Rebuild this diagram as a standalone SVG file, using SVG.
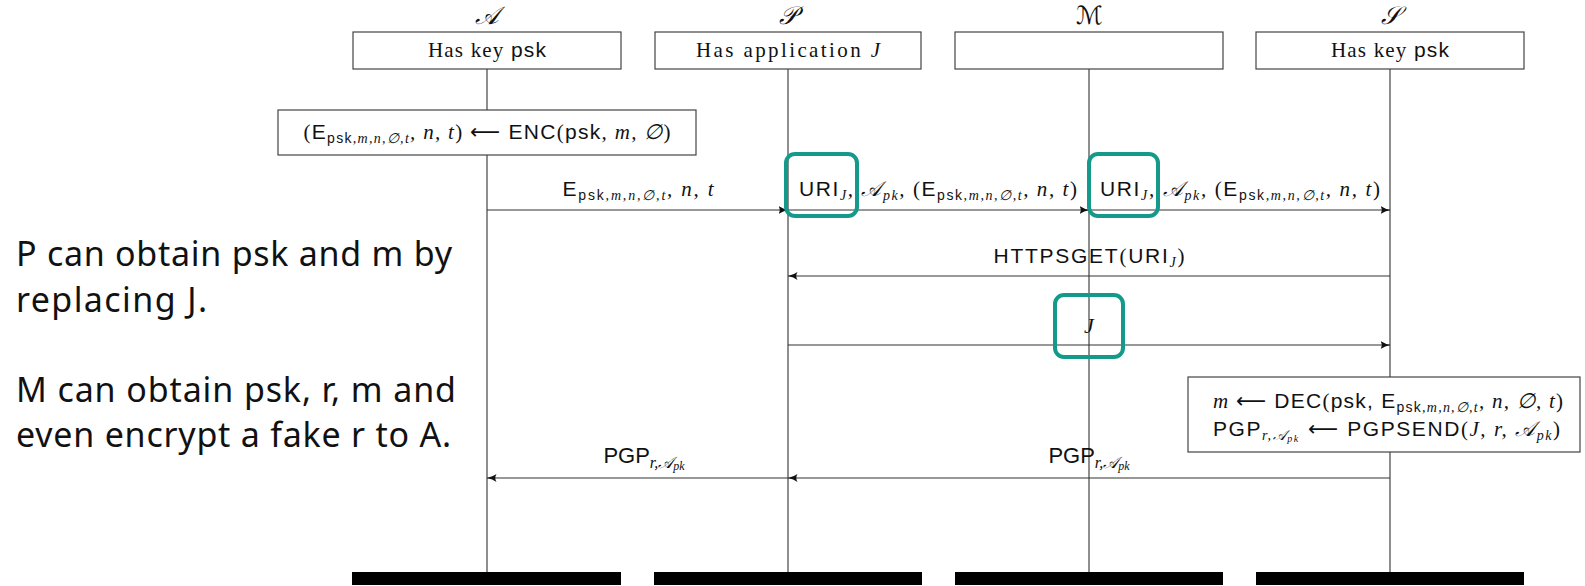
<svg xmlns="http://www.w3.org/2000/svg" width="1585" height="586" viewBox="0 0 1585 586">
  <defs>
    <marker id="head" viewBox="0 0 10 8" refX="9.5" refY="4" markerWidth="10" markerHeight="8" markerUnits="userSpaceOnUse" orient="auto">
      <path d="M0,0 Q4,3 10,4 Q4,5 0,8 Q2.5,4 0,0 Z" fill="#111"/>
    </marker>
    <style>
      .box { fill: #fff; stroke: #444; stroke-width: 1.2; }
      .life { stroke: #444; stroke-width: 1.2; fill: none; }
      .msg { stroke: #333; stroke-width: 1.2; fill: none; marker-end: url(#head); }
      .hl { fill: none; stroke: #149a8b; stroke-width: 4; }
      .bar { fill: #000; }
      text { fill: #111; font-size: 21px; }
      .sf { font-family: "Liberation Sans", Arial, sans-serif; }
      .rm { font-family: "Liberation Serif", "Times New Roman", serif; }
      .it { font-family: "Liberation Serif", "Times New Roman", serif; font-style: italic; }
      .cal { font-family: "DejaVu Serif", "DejaVu Sans", serif; font-style: italic; }
      .arr { font-family: "DejaVu Sans", sans-serif; }
      .sub { font-size: 14px; }
      .ssub { font-size: 10px; }
      .pgp { font-size: 22px; }
      .pgp .sub { font-size: 16px; }
      .pgp .ssub { font-size: 12px; }
      .ttl { font-size: 25px; }
      .hdr { font-size: 21px; }
      .note { font-family: "Noto Sans", "Open Sans", sans-serif; font-size: 34px; fill: #111; }
    </style>
  </defs>

  <!-- lifelines -->
  <g id="lifelines">
    <line class="life" x1="487" y1="69" x2="487" y2="572"/>
    <line class="life" x1="788" y1="69" x2="788" y2="572"/>
    <line class="life" x1="1089" y1="69" x2="1089" y2="572"/>
    <line class="life" x1="1390" y1="69" x2="1390" y2="572"/>
  </g>

  <!-- participant A -->
  <g id="node-a">
    <text class="cal ttl" x="487" y="24" text-anchor="middle">𝒜</text>
    <rect class="box" x="353" y="32" width="268" height="37"/>
    <text class="hdr" x="487" y="57" text-anchor="middle" textLength="118" lengthAdjust="spacing"><tspan class="rm">Has key </tspan><tspan class="sf">psk</tspan></text>
    <rect class="bar" x="352" y="572" width="269" height="13"/>
  </g>

  <!-- participant P -->
  <g id="node-p">
    <text class="cal ttl" x="788" y="24" text-anchor="middle">𝒫</text>
    <rect class="box" x="655" y="32" width="266" height="37"/>
    <text class="hdr" x="788" y="57" text-anchor="middle" textLength="184" lengthAdjust="spacing"><tspan class="rm">Has application </tspan><tspan class="it">J</tspan></text>
    <rect class="bar" x="654" y="572" width="268" height="13"/>
  </g>

  <!-- participant M -->
  <g id="node-m">
    <text class="cal ttl" x="1089" y="24" text-anchor="middle">ℳ</text>
    <rect class="box" x="955" y="32" width="268" height="37"/>
    <rect class="bar" x="955" y="572" width="268" height="13"/>
  </g>

  <!-- participant S -->
  <g id="node-s">
    <text class="cal ttl" x="1390" y="24" text-anchor="middle">𝒮</text>
    <rect class="box" x="1256" y="32" width="268" height="37"/>
    <text class="hdr" x="1390" y="57" text-anchor="middle" textLength="118" lengthAdjust="spacing"><tspan class="rm">Has key </tspan><tspan class="sf">psk</tspan></text>
    <rect class="bar" x="1256" y="572" width="268" height="13"/>
  </g>

  <!-- local computation at A -->
  <g id="node-enc">
    <rect class="box" x="278" y="110" width="418" height="45"/>
    <text x="487" y="139" text-anchor="middle" textLength="367" lengthAdjust="spacing"><tspan class="rm">(</tspan><tspan class="sf">E</tspan><tspan class="sf sub" dy="4">psk</tspan><tspan class="it sub">,m,n,∅,t</tspan><tspan class="it" dy="-4">, n, t</tspan><tspan class="rm">) </tspan><tspan class="arr">⟵</tspan><tspan class="sf"> ENC</tspan><tspan class="rm">(</tspan><tspan class="sf">psk</tspan><tspan class="it">, m, ∅</tspan><tspan class="rm">)</tspan></text>
  </g>

  <!-- local computation at S -->
  <g id="node-dec">
    <rect class="box" x="1188" y="377" width="392" height="75"/>
    <text x="1213" y="408" textLength="350" lengthAdjust="spacing"><tspan class="it">m </tspan><tspan class="arr">⟵</tspan><tspan class="sf"> DEC</tspan><tspan class="rm">(</tspan><tspan class="sf">psk, E</tspan><tspan class="sf sub" dy="4">psk</tspan><tspan class="it sub">,m,n,∅,t</tspan><tspan class="it" dy="-4">, n, ∅, t</tspan><tspan class="rm">)</tspan></text>
    <text x="1213" y="436" textLength="347" lengthAdjust="spacing"><tspan class="sf">PGP</tspan><tspan class="it sub" dy="4">r,</tspan><tspan class="cal sub">𝒜</tspan><tspan class="it ssub" dy="2">pk</tspan><tspan class="arr" dy="-6"> ⟵</tspan><tspan class="sf"> PGPSEND</tspan><tspan class="rm">(</tspan><tspan class="it">J, r, </tspan><tspan class="cal">𝒜</tspan><tspan class="it sub" dy="4">pk</tspan><tspan class="rm" dy="-4">)</tspan></text>
  </g>

  <!-- messages -->
  <g id="connectors">
    <line class="msg" x1="487" y1="210" x2="788" y2="210"/>
    <line class="msg" x1="788" y1="210" x2="1089" y2="210"/>
    <line class="msg" x1="1089" y1="210" x2="1390" y2="210"/>
    <line class="msg" x1="1390" y1="276" x2="788" y2="276"/>
    <line class="msg" x1="788" y1="345" x2="1390" y2="345"/>
    <line class="msg" x1="1390" y1="478" x2="788" y2="478"/>
    <line class="msg" x1="788" y1="478" x2="487" y2="478"/>

    <text x="638" y="196" text-anchor="middle" textLength="151" lengthAdjust="spacing"><tspan class="sf">E</tspan><tspan class="sf sub" dy="4">psk</tspan><tspan class="it sub">,m,n,∅,t</tspan><tspan class="it" dy="-4">, n, t</tspan></text>
    <text x="938" y="196" text-anchor="middle" textLength="278" lengthAdjust="spacing"><tspan class="sf">URI</tspan><tspan class="it sub" dy="4">J</tspan><tspan class="it" dy="-4">, </tspan><tspan class="cal">𝒜</tspan><tspan class="it sub" dy="4">pk</tspan><tspan class="it" dy="-4">, </tspan><tspan class="rm">(</tspan><tspan class="sf">E</tspan><tspan class="sf sub" dy="4">psk</tspan><tspan class="it sub">,m,n,∅,t</tspan><tspan class="it" dy="-4">, n, t</tspan><tspan class="rm">)</tspan></text>
    <text x="1240" y="196" text-anchor="middle" textLength="280" lengthAdjust="spacing"><tspan class="sf">URI</tspan><tspan class="it sub" dy="4">J</tspan><tspan class="it" dy="-4">, </tspan><tspan class="cal">𝒜</tspan><tspan class="it sub" dy="4">pk</tspan><tspan class="it" dy="-4">, </tspan><tspan class="rm">(</tspan><tspan class="sf">E</tspan><tspan class="sf sub" dy="4">psk</tspan><tspan class="it sub">,m,n,∅,t</tspan><tspan class="it" dy="-4">, n, t</tspan><tspan class="rm">)</tspan></text>
    <text x="1089" y="263" text-anchor="middle" textLength="191" lengthAdjust="spacing"><tspan class="sf">HTTPSGET</tspan><tspan class="rm">(</tspan><tspan class="sf">URI</tspan><tspan class="it sub" dy="4">J</tspan><tspan class="rm" dy="-4">)</tspan></text>
    <text class="it" x="1089" y="333" text-anchor="middle" style="font-size:22px">J</text>
    <text class="pgp" x="644" y="463" text-anchor="middle"><tspan class="sf">PGP</tspan><tspan class="it sub" dy="5">r,</tspan><tspan class="cal sub">𝒜</tspan><tspan class="it ssub" dy="2">pk</tspan></text>
    <text class="pgp" x="1089" y="463" text-anchor="middle"><tspan class="sf">PGP</tspan><tspan class="it sub" dy="5">r,</tspan><tspan class="cal sub">𝒜</tspan><tspan class="it ssub" dy="2">pk</tspan></text>
  </g>

  <!-- highlight frames -->
  <g id="highlights">
    <rect class="hl" x="786" y="154" width="71" height="62" rx="9"/>
    <rect class="hl" x="1089" y="154" width="69" height="62" rx="9"/>
    <rect class="hl" x="1055" y="295" width="68" height="62" rx="9"/>
  </g>

  <!-- side notes -->
  <g id="notes">
    <text class="note" x="16" y="266" textLength="436" lengthAdjust="spacing">P can obtain psk and m by</text>
    <text class="note" x="16" y="312" textLength="191" lengthAdjust="spacing">replacing J.</text>
    <text class="note" x="16" y="402" textLength="440" lengthAdjust="spacing">M can obtain psk, r, m and</text>
    <text class="note" x="16" y="447" textLength="435" lengthAdjust="spacing">even encrypt a fake r to A.</text>
  </g>
</svg>
